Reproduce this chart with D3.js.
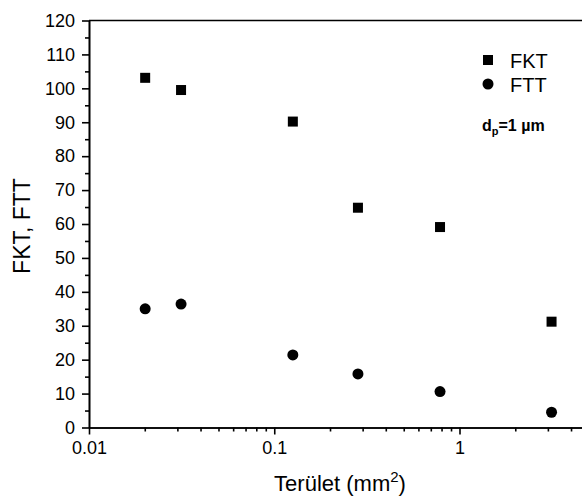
<!DOCTYPE html>
<html>
<head>
<meta charset="utf-8">
<script src="https://cdn.jsdelivr.net/npm/d3@7"></script>
<style>
html,body{margin:0;padding:0;background:#fff;}
svg{display:block;}
text{font-family:"Liberation Sans",Arial,Helvetica,sans-serif;fill:#000;}
</style>
</head>
<body>
<svg id="chart" width="582" height="498"></svg>
<script>
// Data
const area = [0.0201, 0.0314, 0.126, 0.283, 0.785, 3.14];
const fkt  = [103.1, 99.5, 90.2, 64.8, 59.1, 31.2];
const ftt  = [35.0, 36.4, 21.4, 15.8, 10.6, 4.5];
const seriesNames = ["FKT", "FTT"];
const xMajorTicks = [0.01, 0.1, 1];
const xTickLabels = ["0.01", "0.1", "1"];
const yMajorTicks = [0, 10, 20, 30, 40, 50, 60, 70, 80, 90, 100, 110, 120];

const svg = d3.select("#chart");
const mLeft = 89, mTop = 20.5, mBottom = 427.5;
const decade = 185.25;
const xMax = 5;
const x = d3.scaleLog().domain([0.01, xMax]).range([mLeft, mLeft + decade * Math.log10(xMax / 0.01)]);
const y = d3.scaleLinear().domain([0, 120]).range([mBottom, mTop]);

// minor ticks
const xMinor = [];
[0.01, 0.1, 1].forEach(d => { for (let k = 2; k <= 9; k++) { const v = d * k; if (v <= xMax) xMinor.push(v); } });
const yMinor = d3.range(5, 120, 10);

const axisG = svg.append("g");
const stroke = 1.6;

// Bottom axis
const xAxis = d3.axisBottom(x).tickValues(xMajorTicks).tickFormat((d, i) => xTickLabels[i]).tickSizeInner(7).tickSizeOuter(0).tickPadding(7);
const gx = axisG.append("g").attr("transform", `translate(0,${mBottom})`).call(xAxis);
const xMinorAxis = d3.axisBottom(x).tickValues(xMinor).tickFormat("").tickSizeInner(4).tickSizeOuter(0);
const gxm = axisG.append("g").attr("transform", `translate(0,${mBottom})`).call(xMinorAxis);

// Left axis
const yAxis = d3.axisLeft(y).tickValues(yMajorTicks).tickSizeInner(7).tickSizeOuter(0).tickPadding(7);
const gy = axisG.append("g").attr("transform", `translate(${mLeft},0)`).call(yAxis);
const yMinorAxis = d3.axisLeft(y).tickValues(yMinor).tickFormat("").tickSizeInner(4).tickSizeOuter(0);
const gym = axisG.append("g").attr("transform", `translate(${mLeft},0)`).call(yMinorAxis);

[gx, gxm, gy, gym].forEach(g => {
  g.selectAll("path.domain").attr("stroke", "#000").attr("stroke-width", stroke);
  g.selectAll(".tick line").attr("stroke", "#000").attr("stroke-width", stroke);
  g.selectAll(".tick text").attr("font-size", 18).attr("font-family", "Liberation Sans, Arial, sans-serif").attr("fill", "#000");
});

// top border
svg.append("line").attr("x1", mLeft).attr("x2", x.range()[1]).attr("y1", mTop).attr("y2", mTop)
  .attr("stroke", "#000").attr("stroke-width", stroke);

// Points
const sq = 10;
svg.append("g").selectAll("rect").data(area.map((a, i) => [a, fkt[i]])).join("rect")
  .attr("x", d => x(d[0]) - sq / 2).attr("y", d => y(d[1]) - sq / 2)
  .attr("width", sq).attr("height", sq).attr("fill", "#000");
svg.append("g").selectAll("circle").data(area.map((a, i) => [a, ftt[i]])).join("circle")
  .attr("cx", d => x(d[0])).attr("cy", d => y(d[1])).attr("r", 5.5).attr("fill", "#000");

// Legend
const lg = svg.append("g");
lg.append("rect").attr("x", 488 - 5).attr("y", 60 - 5).attr("width", 10).attr("height", 10).attr("fill", "#000");
lg.append("text").attr("x", 510).attr("y", 68).attr("font-size", 20).text(seriesNames[0]);
lg.append("circle").attr("cx", 488).attr("cy", 84).attr("r", 5.5).attr("fill", "#000");
lg.append("text").attr("x", 510).attr("y", 92).attr("font-size", 20).text(seriesNames[1]);

const dp = svg.append("text").attr("x", 482).attr("y", 131).attr("font-size", 16).attr("font-weight", "bold");
dp.append("tspan").text("d");
dp.append("tspan").attr("font-size", 11).attr("dy", 4).text("p");
dp.append("tspan").attr("dy", -4).text("=1 µm");

// Axis titles
svg.append("text").attr("transform", `translate(30,226) rotate(-90)`).attr("text-anchor", "middle")
  .attr("font-size", 23).text("FKT, FTT");
const xt = svg.append("text").attr("x", 340).attr("y", 491).attr("text-anchor", "middle").attr("font-size", 22);
xt.append("tspan").text("Terület (mm");
xt.append("tspan").attr("font-size", 15).attr("dy", -9).text("2");
xt.append("tspan").attr("dy", 9).text(")");
</script>
</body>
</html>
